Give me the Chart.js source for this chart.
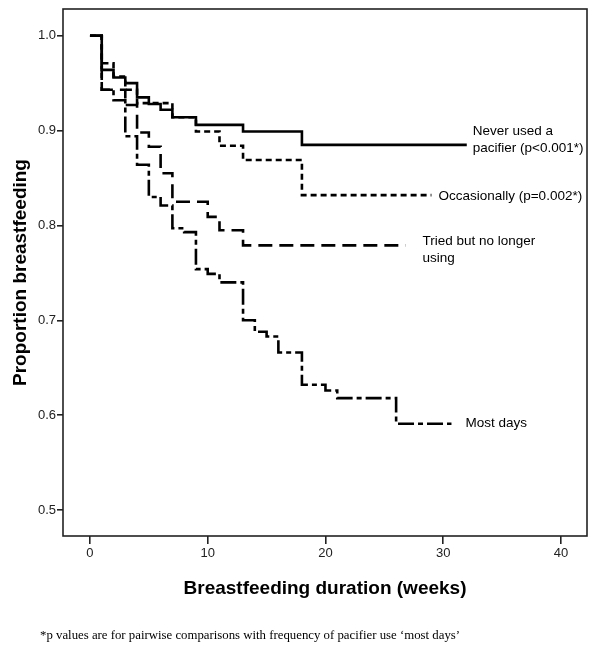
<!DOCTYPE html>
<html lang="en">

<head>
    <meta charset="UTF-8">
    <title>Breastfeeding by pacifier use</title>
    <style>
        body { margin: 0; background: #fff; }
        #wrap { position: relative; width: 600px; height: 664px; }
        #note {
            position: absolute; left: 40px; top: 628px;
            font: 12.8px "Liberation Serif", "Times New Roman", serif; color: #000;
            white-space: nowrap;
        }
    </style>
</head>

<body>
    <div id="wrap">
        <canvas id="myChart" width="600" height="664"></canvas>
        <div id="note">*p values are for pairwise comparisons with frequency of pacifier use ‘most days’</div>
    </div>

    <script src="https://cdnjs.cloudflare.com/ajax/libs/Chart.js/4.4.1/chart.umd.min.js"></script>
    <script>
        // tick labels
        const xTickValues = [0, 10, 20, 30, 40];
        const yTickValues = [0.5, 0.6, 0.7, 0.8, 0.9, 1.0];

        // Kaplan-Meier steps: week of each drop and the proportion after it (last point = end of follow-up)
        const neverWeeks = [0, 1, 2, 3, 4, 5, 6, 7, 9, 13, 18, 32];
        const neverProp = [1.0, 0.964, 0.956, 0.950, 0.935, 0.928, 0.922, 0.914, 0.906, 0.899, 0.885, 0.885];

        const occWeeks = [0, 1, 2, 3, 4, 7, 9, 11, 13, 18, 29];
        const occProp = [1.0, 0.971, 0.957, 0.943, 0.929, 0.914, 0.899, 0.884, 0.869, 0.832, 0.832];

        const triedWeeks = [0, 1, 3, 4, 5, 6, 7, 10, 11, 13, 26.8];
        const triedProp = [1.0, 0.943, 0.927, 0.898, 0.883, 0.855, 0.825, 0.809, 0.795, 0.779, 0.779];

        const mostWeeks = [0, 1, 2, 3, 4, 5, 6, 7, 8, 9, 10, 11, 13, 14, 15, 16, 18, 20, 21, 26, 30.7];
        const mostProp = [1.0, 0.943, 0.932, 0.894, 0.864, 0.830, 0.821, 0.797, 0.793, 0.754, 0.749, 0.740,
            0.700, 0.688, 0.683, 0.666, 0.632, 0.626, 0.618, 0.591, 0.591];

        const seriesLabels = [
            ['Never used a', 'pacifier (p<0.001*)'],
            ['Occasionally (p=0.002*)'],
            ['Tried but no longer', 'using'],
            ['Most days']
        ];
        // label placement relative to the end of each line (px)
        const labelOffsets = [[6, -14], [7, 1], [17, -4], [14, 0]];

        const toPoints = (xs, ys) => xs.map((x, i) => ({ x: x, y: ys[i] }));

        function makeSet(label, xs, ys, dash) {
            return {
                label: label,
                data: toPoints(xs, ys),
                borderColor: '#000',
                borderWidth: 2.6,
                borderDash: dash,
                borderCapStyle: 'butt',
                stepped: 'before',
                pointRadius: 0,
                fill: false
            };
        }

        const frame = {
            id: 'frame',
            afterDatasetsDraw(chart) {
                const a = chart.chartArea, c = chart.ctx;
                c.save();
                c.strokeStyle = '#222';
                c.lineWidth = 1.6;
                c.strokeRect(a.left, a.top, a.right - a.left, a.bottom - a.top);
                c.restore();
            }
        };

        const endLabels = {
            id: 'endLabels',
            afterDatasetsDraw(chart) {
                const c = chart.ctx, xs = chart.scales.x, ys = chart.scales.y;
                c.save();
                c.fillStyle = '#000';
                c.font = '13.5px "Liberation Sans", Arial, sans-serif';
                c.textBaseline = 'middle';
                chart.data.datasets.forEach((ds, i) => {
                    const last = ds.data[ds.data.length - 1];
                    const px = xs.getPixelForValue(last.x) + labelOffsets[i][0];
                    const py = ys.getPixelForValue(last.y) + labelOffsets[i][1];
                    seriesLabels[i].forEach((t, k) => c.fillText(t, px, py + k * 17));
                });
                c.restore();
            }
        };

        const tickFont = { family: '"Liberation Sans", Arial, sans-serif', size: 13 };
        const titleFont = { family: '"Liberation Sans", Arial, sans-serif', size: 19, weight: 'bold', lineHeight: 1 };

        var ctx = document.getElementById('myChart');
        var chart = new Chart(ctx, {
            type: 'line',
            data: {
                datasets: [
                    makeSet('Never used a pacifier', neverWeeks, neverProp, []),
                    makeSet('Occasionally', occWeeks, occProp, [6, 4]),
                    makeSet('Tried but no longer using', triedWeeks, triedProp, [14, 7]),
                    makeSet('Most days', mostWeeks, mostProp, [16, 4, 5, 4])
                ]
            },
            options: {
                responsive: false,
                animation: false,
                layout: { padding: { left: 0, top: 9, right: 13, bottom: 64 } },
                plugins: {
                    legend: { display: false },
                    tooltip: { enabled: false }
                },
                scales: {
                    x: {
                        type: 'linear',
                        min: -2.29,
                        max: 42.21,
                        afterBuildTicks: s => { s.ticks = xTickValues.map(v => ({ value: v })); },
                        afterFit: s => { s.height = 64; },
                        border: { display: false },
                        grid: { drawOnChartArea: false, drawTicks: true, tickLength: 8, color: '#222', lineWidth: 1.6 },
                        ticks: { font: tickFont, color: '#222', padding: 2, maxRotation: 0 },
                        title: { display: true, text: 'Breastfeeding duration (weeks)', font: titleFont, color: '#000', padding: { top: 0, bottom: 2 } }
                    },
                    y: {
                        min: 0.4726,
                        max: 1.0282,
                        afterBuildTicks: s => { s.ticks = yTickValues.map(v => ({ value: v })); },
                        afterFit: s => { s.width = 63; },
                        border: { display: false },
                        grid: { drawOnChartArea: false, drawTicks: true, tickLength: 6, color: '#222', lineWidth: 1.6 },
                        ticks: { font: tickFont, color: '#222', padding: 1, callback: v => v.toFixed(1) },
                        title: { display: true, text: 'Proportion breastfeeding', font: titleFont, color: '#000', padding: { top: 11, bottom: 0 } }
                    }
                }
            },
            plugins: [frame, endLabels]
        });
    </script>

</body>

</html>
